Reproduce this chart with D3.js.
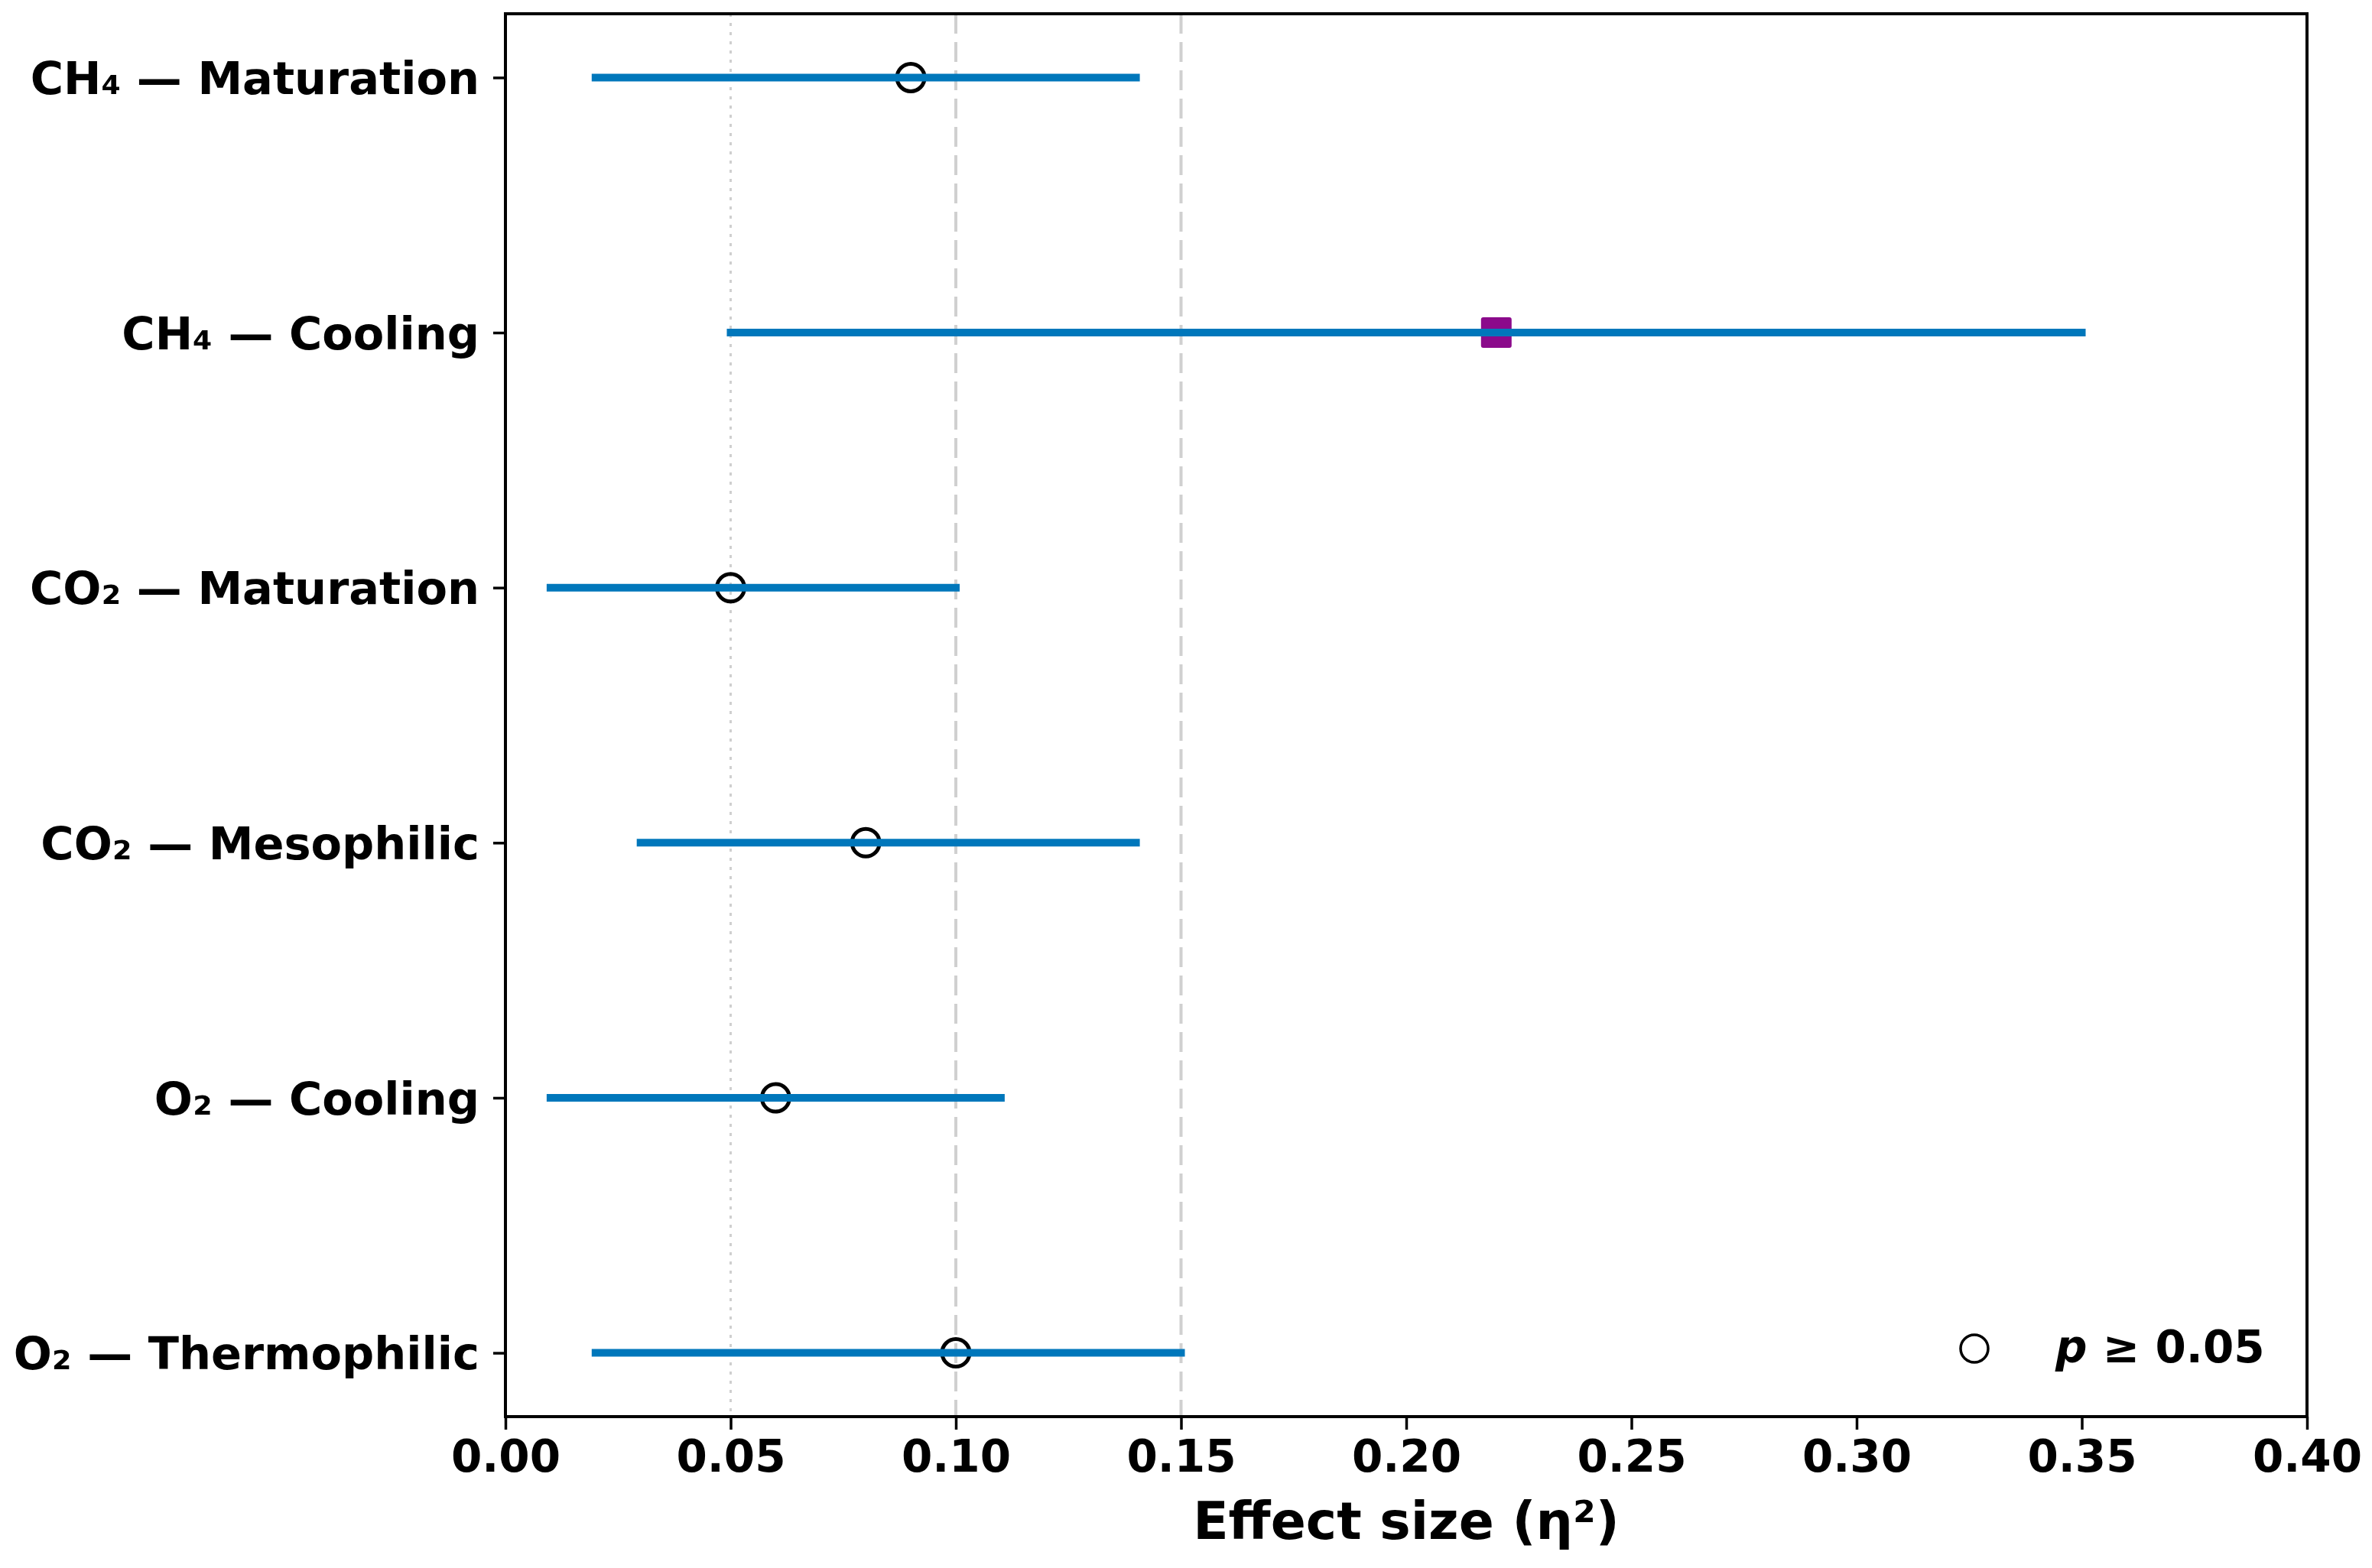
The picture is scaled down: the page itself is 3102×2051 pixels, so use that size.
<!DOCTYPE html>
<html>
<head>
<meta charset="utf-8">
<script src="https://d3js.org/d3.v7.min.js"></script>
<style>
	body { margin: 0; background: #fff; }
	svg text { font-family: "DejaVu Sans", sans-serif; font-weight: bold; fill: #000; }
	.tick line { stroke: #000; stroke-width: 3.5px; }
	.domain { display: none; }
</style>
</head>
<body>
<svg width="3102" height="2051"></svg>
<script>
var labels = ["CH₄ — Maturation", "CH₄ — Cooling", "CO₂ — Maturation", "CO₂ — Mesophilic", "O₂ — Cooling", "O₂ — Thermophilic"];
var eta = [0.09, 0.22, 0.05, 0.08, 0.06, 0.10];
var ciLow = [0.02, 0.05, 0.01, 0.03, 0.01, 0.02];
var ciHigh = [0.14, 0.35, 0.10, 0.14, 0.11, 0.15];
var significant = [false, true, false, false, false, false];
var xTicks = [0, 0.05, 0.10, 0.15, 0.20, 0.25, 0.30, 0.35, 0.40];
// reference lines: value + style
var refLines = [{v: 0.05, dash: "4,8", w: 3, c: "#cfcfcf"}, {v: 0.10, dash: "26,11", w: 4, c: "#d0d0d0"}, {v: 0.15, dash: "26,11", w: 4, c: "#d0d0d0"}];

var svg = d3.select("svg");
var pLeft = 661, pRight = 3017, pTop = 18, pBottom = 1853;

var x = d3.scaleLinear().domain([0, 0.4]).range([pLeft, pRight]);
var y = d3.scalePoint().domain(labels).range([pTop, pBottom]).padding(0.25);

var rows = labels.map(function(l, i) {
	return {label: l, eta: eta[i], lo: ciLow[i], hi: ciHigh[i], sig: significant[i]};
});

// reference lines
svg.selectAll(".ref").data(refLines).enter().append("line")
	.attr("x1", function(d) { return x(d.v); }).attr("x2", function(d) { return x(d.v); })
	.attr("y1", pTop).attr("y2", pBottom)
	.attr("stroke", function(d) { return d.c; })
	.attr("stroke-width", function(d) { return d.w; })
	.attr("stroke-dasharray", function(d) { return d.dash; });

// markers (drawn under the interval lines)
svg.selectAll(".pt").data(rows.filter(function(d) { return !d.sig; })).enter().append("circle")
	.attr("cx", function(d) { return x(d.eta); })
	.attr("cy", function(d) { return y(d.label); })
	.attr("r", 18)
	.attr("fill", "none").attr("stroke", "#000").attr("stroke-width", 5);

svg.selectAll(".sq").data(rows.filter(function(d) { return d.sig; })).enter().append("rect")
	.attr("x", function(d) { return x(d.eta) - 20; })
	.attr("y", function(d) { return y(d.label) - 20; })
	.attr("width", 40).attr("height", 40).attr("rx", 3)
	.attr("fill", "#8b0a8b");

svg.selectAll(".ci").data(rows).enter().append("line")
	.attr("x1", function(d) { return x(d.lo); })
	.attr("x2", function(d) { return x(d.hi); })
	.attr("y1", function(d) { return y(d.label); })
	.attr("y2", function(d) { return y(d.label); })
	.attr("stroke", "#0077bb").attr("stroke-width", 10)
	.attr("stroke-linecap", "square");

// axes
var xAxis = svg.append("g").attr("transform", "translate(0," + pBottom + ")")
	.call(d3.axisBottom(x).tickValues(xTicks).tickFormat(d3.format(".2f")).tickSize(17).tickPadding(14));
xAxis.selectAll("text").style("font-size", "58px");

var yAxis = svg.append("g").attr("transform", "translate(" + pLeft + ",0)")
	.call(d3.axisLeft(y).tickSize(16).tickPadding(18));
yAxis.selectAll("text").style("font-size", "59px").attr("dy", "0.36em");

// frame
svg.append("rect").attr("x", pLeft).attr("y", pTop)
	.attr("width", pRight - pLeft).attr("height", pBottom - pTop)
	.attr("fill", "none").attr("stroke", "#000").attr("stroke-width", 4);

// axis label
svg.append("text").attr("x", (pLeft + pRight) / 2).attr("y", 2013)
	.attr("text-anchor", "middle").style("font-size", "68px")
	.text("Effect size (η²)");

// legend
svg.append("circle").attr("cx", 2582).attr("cy", 1764).attr("r", 18)
	.attr("fill", "none").attr("stroke", "#000").attr("stroke-width", 3.5);
var lt = svg.append("text").attr("x", 2688).attr("y", 1782).style("font-size", "58px");
lt.append("tspan").style("font-style", "italic").text("p");
lt.append("tspan").text(" ≥ 0.05");
</script>
</body>
</html>
